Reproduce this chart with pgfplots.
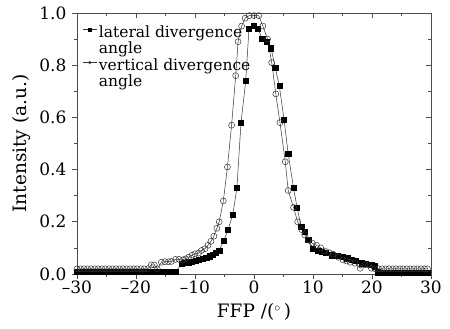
\documentclass[border=0pt]{standalone}
\usepackage{fontspec}
\setmainfont{DejaVu Serif}
\usepackage{pgfplots}
\pgfplotsset{compat=1.18}
\usepackage{pgfplotstable}

\pgfplotstableread{
x y
-30 0.02
-29.4 0.02
-28.8 0.02
-28.2 0.02
-27.6 0.02
-27.0 0.02
-26.4 0.02
-25.8 0.02
-25.2 0.02
-24.6 0.02
-24.0 0.02
-23.4 0.02
-22.8 0.02
-22.2 0.02
-21.6 0.02
-21.0 0.02
-20.4 0.02
-19.8 0.02
-19.2 0.02
-18.6 0.02
-18.0 0.02
-17.4 0.035
-16.9 0.035
-16.4 0.02
-15.7 0.045
-15.1 0.047
-14.5 0.047
-14.0 0.048
-13.3 0.056
-12.7 0.056
-12.1 0.054
-11.6 0.058
-11.1 0.064
-10.5 0.072
-10.0 0.077
-9.4 0.08
-8.9 0.09
-8.3 0.097
-7.8 0.11
-7.3 0.125
-6.8 0.145
-6.3 0.175
-5.9 0.2
-5.2 0.28
-4.5 0.41
-3.8 0.57
-3.1 0.76
-2.7 0.89
-2.1 0.95
-1.5 0.98
-0.8 0.99
0 0.99
0.8 0.99
1.5 0.95
2.3 0.90
3.0 0.81
3.7 0.69
4.4 0.58
5.3 0.43
5.8 0.32
6.7 0.255
7.4 0.2
8.1 0.17
8.6 0.15
9.2 0.13
9.9 0.118
10.6 0.11
11.3 0.10
12.0 0.088
12.7 0.082
13.4 0.076
14.3 0.064
15.1 0.054
15.7 0.05
16.3 0.045
17.1 0.041
18.0 0.022
18.8 0.035
19.4 0.035
19.9 0.022
20.5 0.02
21.1 0.02
21.7 0.02
22.3 0.02
22.9 0.02
23.5 0.02
24.1 0.02
24.7 0.02
25.3 0.02
25.9 0.02
26.5 0.02
27.1 0.02
27.7 0.02
28.3 0.02
28.9 0.02
29.4 0.02
}\vertical

\pgfplotstableread{
x y
-30 0.01
-29.4 0.01
-28.8 0.01
-28.2 0.01
-27.6 0.01
-27.0 0.01
-26.4 0.01
-25.8 0.01
-25.2 0.01
-24.6 0.01
-24.0 0.01
-23.4 0.01
-22.8 0.01
-22.2 0.01
-21.6 0.01
-21.0 0.01
-20.4 0.01
-19.8 0.01
-19.2 0.01
-18.6 0.01
-18.0 0.01
-17.4 0.01
-16.8 0.01
-16.2 0.01
-15.6 0.01
-15.0 0.01
-14.4 0.01
-13.8 0.01
-13.2 0.01
-12.3 0.04
-11.7 0.043
-11.1 0.045
-10.5 0.048
-9.9 0.05
-9.3 0.055
-8.7 0.058
-8.1 0.062
-7.5 0.068
-7.0 0.073
-6.5 0.08
-5.9 0.09
-5.1 0.128
-4.4 0.17
-3.6 0.227
-2.9 0.33
-2.2 0.58
-1.4 0.74
-0.85 0.94
0 0.95
0.7 0.94
1.4 0.90
2.1 0.89
2.9 0.865
3.6 0.79
4.3 0.72
5.1 0.59
5.8 0.46
6.7 0.33
7.3 0.255
8.0 0.18
8.6 0.163
9.2 0.13
10.0 0.098
10.9 0.088
11.5 0.085
12.2 0.08
13.2 0.072
14.1 0.07
15.1 0.066
15.8 0.06
16.5 0.055
17.3 0.05
18.2 0.041
19.0 0.038
19.9 0.035
20.4 0.03
21.0 0.007
21.6 0.005
22.2 0.005
22.8 0.005
23.4 0.005
24.0 0.005
24.6 0.005
25.2 0.005
25.8 0.005
26.4 0.005
27.0 0.005
27.6 0.005
28.2 0.005
28.8 0.005
29.4 0.005
}\lateral

\begin{document}
\begin{tikzpicture}
\useasboundingbox (-77pt,-55pt) rectangle (373pt,274pt);
\pgfplotsset{
  common/.style={
    scale only axis, width=354pt, height=261pt,
    xmin=-30, xmax=30, ymin=0, ymax=1,
    xtick={-30,-20,...,30}, ytick={0,0.2,0.4,0.6,0.8,1.0},
    minor xtick={-25,-15,...,25}, minor ytick={0.1,0.3,0.5,0.7,0.9},
    major tick length=5pt, minor tick length=3pt,
    every tick/.style={black!70, line width=0.6pt},
    axis line style={black!70, line width=0.8pt},
  }
}
\begin{axis}[common,
    axis x line*=top, axis y line*=right,
    tick align=inside,
    xticklabels={}, yticklabels={},
]
\end{axis}
\begin{axis}[common,
    axis x line*=bottom, axis y line*=left,
    tick align=outside,
    xticklabels={–30,–20,–10,0,10,20,30},
    yticklabels={0.0,0.2,0.4,0.6,0.8,1.0},
    tick label style={font=\fontsize{17}{18}\selectfont},
    label style={font=\fontsize{18.5}{19}\selectfont},
    xticklabel style={yshift=2pt},
    yticklabel style={xshift=-2pt},
    xlabel={FFP /(${}^\circ$\,)},
    ylabel={Intensity (a.u.)},
    xlabel style={yshift=-3pt},
    ylabel style={yshift=2pt},
    legend style={draw=none, fill=none, at={(0.012,0.965)}, anchor=north west,
      font=\fontsize{15.5}{16}\selectfont, row sep=16pt, inner sep=1pt,
      every odd column/.append style={column sep=4pt}},
    legend cell align=left,
    legend image post style={mark size=1.4pt},
    legend image code/.code={\draw[#1] (0pt,0.5ex) -- (14pt,0.5ex); \draw[#1, only marks] plot coordinates {(7pt,0.5ex)};},
]
\addplot[black!80, line width=0.5pt, mark=square*, mark size=2.6pt, mark options={fill=black, draw=black}] table {\lateral};
\addlegendentry{\begin{tabular}[t]{@{}l@{}}lateral divergence\\angle\end{tabular}}
\addplot[black!80, line width=0.5pt, mark=o, mark size=3pt, mark options={fill=white, draw=black!80}] table {\vertical};
\addlegendentry{\begin{tabular}[t]{@{}l@{}}vertical divergence\\angle\end{tabular}}
\end{axis}
\end{tikzpicture}
\end{document}
